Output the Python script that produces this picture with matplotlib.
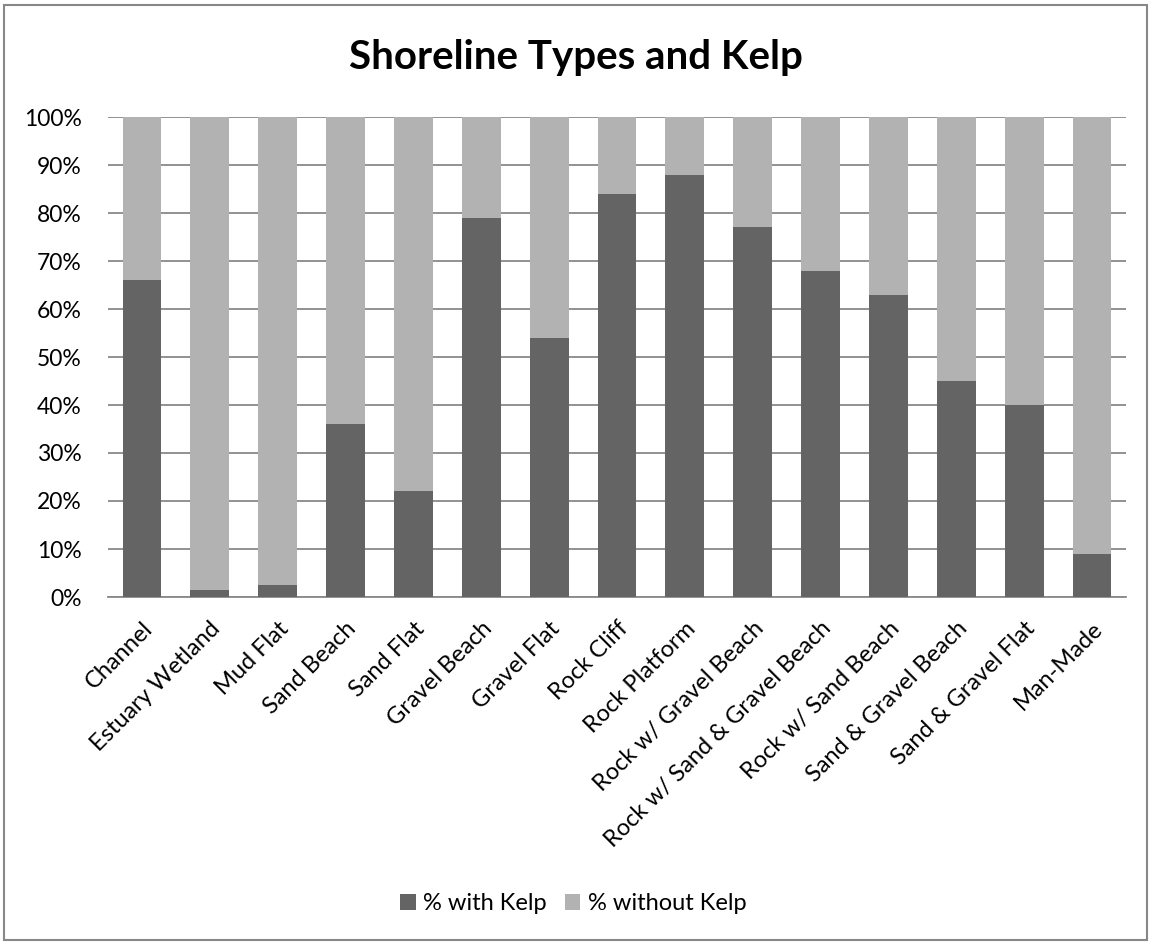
import numpy as np
import matplotlib.pyplot as plt
from matplotlib.patches import Rectangle
from matplotlib.ticker import PercentFormatter

plt.rcParams['font.family'] = ['Lato', 'DejaVu Sans']

categories = ["Channel", "Estuary Wetland", "Mud Flat", "Sand Beach", "Sand Flat",
              "Gravel Beach", "Gravel Flat", "Rock Cliff", "Rock Platform",
              "Rock w/ Gravel Beach", "Rock w/ Sand & Gravel Beach",
              "Rock w/ Sand Beach", "Sand & Gravel Beach", "Sand & Gravel Flat",
              "Man-Made"]
with_kelp = [66, 1.5, 2.5, 36, 22, 79, 54, 84, 88, 77, 68, 63, 45, 40, 9]
without_kelp = [100 - v for v in with_kelp]

dark = '#646464'
light = '#b2b2b2'
grid = '#898989'

fig = plt.figure(figsize=(11.51, 9.43), dpi=100)
ax = fig.add_axes([108/1151, 1 - 597/943, (1126-108)/1151, (597-117)/943])

x = np.arange(len(categories))
w = 1/1.75
ax.bar(x, with_kelp, w, color=dark, label='% with Kelp', zorder=3)
ax.bar(x, without_kelp, w, bottom=with_kelp, color=light, label='% without Kelp', zorder=3)

ax.set_xlim(-0.5, len(categories) - 0.5)
ax.set_ylim(0, 100)
ax.set_yticks(np.arange(0, 101, 10))
ax.yaxis.set_major_formatter(PercentFormatter(decimals=0))
ax.yaxis.grid(True, color=grid, linewidth=1.3, zorder=0)
ax.set_axisbelow(True)
for s in ['top', 'right', 'left']:
    ax.spines[s].set_visible(False)
ax.spines['bottom'].set_color(grid)
ax.spines['bottom'].set_linewidth(1.3)
ax.tick_params(axis='both', length=0, labelsize=16.5, colors='black')
ax.tick_params(axis='y', pad=19)
ax.set_xticks(x)
ax.set_xticklabels(categories, rotation=45, ha='right', rotation_mode='anchor',
                   fontsize=17)
ax.tick_params(axis='x', pad=15)

fig.text(0.5, 1 - 57/943, 'Shoreline Types and Kelp', ha='center', va='center',
         fontsize=29, fontweight='bold')

fig.legend(loc='center', bbox_to_anchor=(0.498, 1 - 904/943), ncol=2, frameon=False,
           prop={'size': 17}, handlelength=0.65, handleheight=0.65,
           handletextpad=0.3, columnspacing=0.8)

fig.patches.append(Rectangle((4/1151, 3/943), 1 - 8/1151, 1 - 8/943,
                             transform=fig.transFigure, fill=False,
                             edgecolor='#888888', linewidth=1.5))

fig.savefig('out.png', dpi=100)
